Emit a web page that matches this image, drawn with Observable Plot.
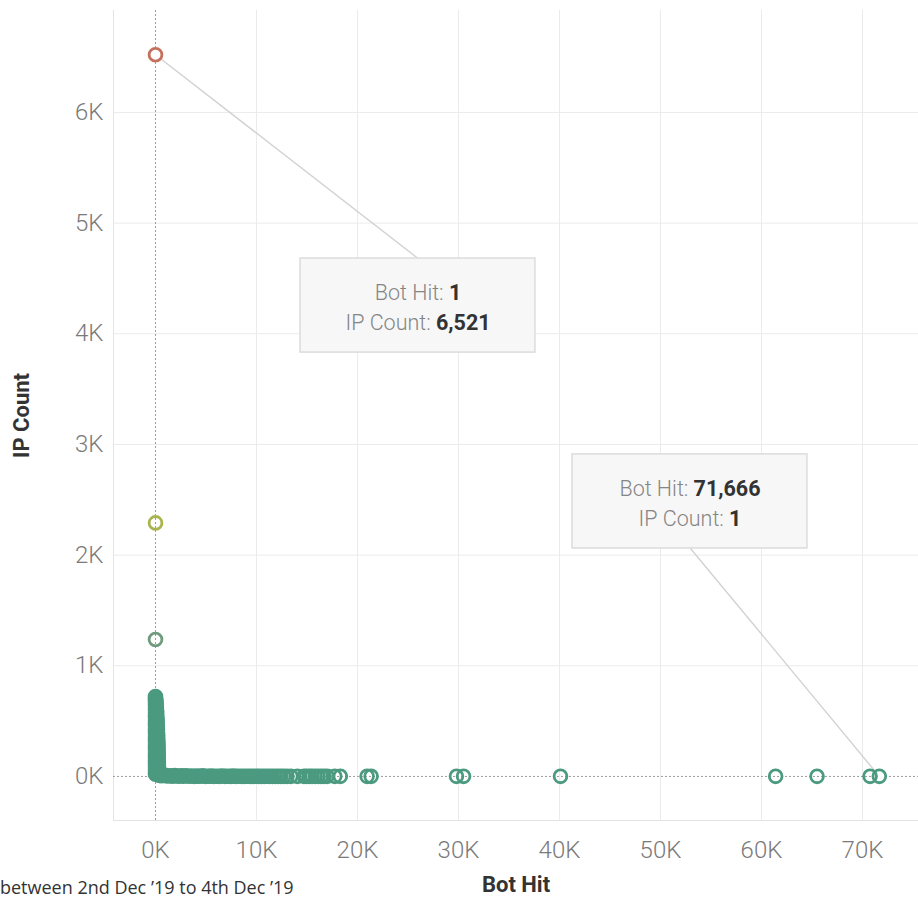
<!DOCTYPE html>
<html>
<head>
<meta charset="utf-8">
<script src="https://cdn.jsdelivr.net/npm/d3@7"></script>
<script src="https://cdn.jsdelivr.net/npm/@observablehq/plot@0.6"></script>
<style>
  body { margin: 0; background: #fff; }
  #wrap { position: relative; width: 918px; height: 898px; overflow: hidden; }
  #caption { position: absolute; left: 0px; top: 875px; font-family: "Open Sans", sans-serif; font-size: 18px; color: #333; white-space: nowrap; }
</style>
</head>
<body>
<div id="wrap"><div id="chart"></div><div id="caption">between 2nd Dec ’19 to 4th Dec ’19</div></div>
<script>
// --- Data ---
const botHit = [
  // outliers on the y axis
  1, 2, 1,
  // vertical cluster near Bot Hit = 0
  1, 3, 1, 40, 2, 60, 1, 80, 3, 95, 1, 110, 2, 120, 1, 135, 3, 150, 1, 160, 2, 170, 1, 180, 2, 190,
  1, 200, 3, 210, 1, 220, 2, 230, 1, 240, 2, 250, 1, 255, 3, 260, 1, 265, 2, 270, 1, 275, 2, 280,
  1, 285, 2, 290, 1, 300, 2, 320, 1, 350, 3, 380,
  // horizontal band near IP Count = 0
  420, 610, 880, 1130, 1390, 1660, 1920, 2200, 2470, 2750, 3020, 3300, 3560, 3840, 4110, 4400, 4660,
  4950, 5220, 5500, 5770, 6050, 6330, 6600, 6880, 7150, 7430, 7700, 7990, 8260, 8540, 8810, 9090,
  9370, 9640, 9920, 10200, 10470, 10750, 11030, 11300, 11580, 11860, 12130, 12410, 12690, 13020,
  13400, 14050, 14700, 14950, 15250, 15500, 15800, 16100, 16400, 16700, 17000, 17750, 18300,
  20950, 21350, 29800, 30500, 40100, 61400, 65500, 70750, 71666
];
const ipCount = [
  6521, 2291, 1238,
  722, 708, 695, 688, 676, 664, 650, 640, 628, 616, 603, 592, 580, 568, 556, 544, 532, 520, 508, 496, 484, 472, 460, 448, 436, 424,
  412, 400, 388, 376, 364, 352, 340, 328, 316, 304, 292, 280, 268, 256, 244, 232, 220, 208, 196, 184, 172, 160, 148, 136,
  124, 112, 100, 88, 76, 64, 52, 42, 32, 28, 20, 18,
  9, 6, 12, 4, 7, 3, 8, 2, 5, 3, 6, 2, 4, 1, 3, 2, 5,
  1, 2, 3, 1, 2, 1, 4, 1, 2, 1, 3, 1, 2, 1, 1, 2,
  1, 1, 2, 1, 1, 1, 2, 1, 1, 1, 1, 1, 1,
  1, 1, 1, 1, 1, 1, 1, 1, 1, 1, 1, 1, 1, 1,
  1, 1, 1, 1, 1, 1, 1, 1, 1
];
const xTicks = [0, 10000, 20000, 30000, 40000, 50000, 60000, 70000];
const yTicks = [0, 1000, 2000, 3000, 4000, 5000, 6000];
const colorStops = [0, 800, 1238, 2291, 6521];
const colorRange = ["#4b9a80", "#4b9a80", "#6f9b7d", "#a9b44e", "#c4705b"];

// Annotations (tooltips) in data space
const notePointX = [1, 71666];
const notePointY = [6521, 1];
const noteAnchorX = [26000, 52970];
const noteAnchorY = [4680, 2060];
const noteBoxX1 = [14360, 41290];
const noteBoxX2 = [37620, 64550];
const noteBoxY1 = [3830, 2060];
const noteBoxY2 = [4680, 2910];

const data = botHit.map((b, i) => ({botHit: b, ipCount: ipCount[i]}));
const notes = notePointX.map((px, i) => ({
  px, py: notePointY[i], ax: noteAnchorX[i], ay: noteAnchorY[i],
  x1: noteBoxX1[i], x2: noteBoxX2[i], y1: noteBoxY1[i], y2: noteBoxY2[i],
  text: `Bot Hit: ${d3.format(",")(px)}\nIP Count: ${d3.format(",")(notePointY[i])}`
}));

const kfmt = d => `${d / 1000}K`;

const chart = Plot.plot({
  width: 918,
  height: 898,
  marginLeft: 113,
  marginRight: 0,
  marginTop: 10,
  marginBottom: 78,
  style: {fontFamily: "Roboto, sans-serif", background: "#fff"},
  x: {domain: [-4158, 75545]},
  y: {domain: [-398, 6921]},
  color: {type: "linear", domain: colorStops, range: colorRange},
  marks: [
    Plot.gridX(xTicks.filter(d => d !== 0), {stroke: "#ebebeb", strokeOpacity: 1}),
    Plot.gridY(yTicks.filter(d => d !== 0), {stroke: "#ebebeb", strokeOpacity: 1}),
    Plot.frame({anchor: "left", stroke: "#e4e4e4"}),
    Plot.frame({anchor: "bottom", stroke: "#e4e4e4"}),
    Plot.ruleX([0], {stroke: "#9b9b9b", strokeDasharray: "2,2"}),
    Plot.ruleY([0], {stroke: "#9b9b9b", strokeDasharray: "2,2"}),
    Plot.link(notes, {x1: "px", y1: "py", x2: "ax", y2: "ay", stroke: "#d2d2d2", strokeWidth: 1.4}),
    Plot.dot(notes, {x: "px", y: "py", r: 7.5, fill: "white", stroke: "none"}),
    Plot.dot(data, {x: "botHit", y: "ipCount", r: 6.4, stroke: "ipCount", strokeWidth: 2.8, fill: "none"}),
    Plot.rect(notes, {x1: "x1", x2: "x2", y1: "y1", y2: "y2", fill: "#f7f7f7", stroke: "#dcdcdc", strokeWidth: 1.5}),
    Plot.text(notes, {x: d => (d.x1 + d.x2) / 2, y: d => (d.y1 + d.y2) / 2, text: "text", fontSize: 21.5, lineHeight: 1.4, fill: "#858585", className: "tip"}),
    Plot.axisX(xTicks, {tickSize: 0, tickPadding: 20, tickFormat: kfmt, fontSize: 24, fill: "#7a7a7a", label: "Bot Hit", labelAnchor: "center", labelArrow: "none", labelOffset: 71}),
    Plot.axisY(yTicks, {tickSize: 0, tickPadding: 10, tickFormat: kfmt, fontSize: 24, fill: "#7a7a7a", label: "IP Count", labelAnchor: "center", labelArrow: "none", labelOffset: 100})
  ]
});

const svg = d3.select(chart);
svg.selectAll('g[aria-label="tick label"] text, g[aria-label="x-axis tick label"] text, g[aria-label="y-axis tick label"] text').style("font-weight", "300");
svg.selectAll('g[aria-label="x-axis label"] text, g[aria-label="y-axis label"] text')
  .attr("fill", "#333").style("font-weight", "bold").style("font-size", "22px");
// Bold values in the tooltips
svg.selectAll(".tip tspan").each(function() {
  const t = d3.select(this);
  const s = t.text();
  const k = s.indexOf(": ");
  t.text(null);
  t.append("tspan").style("font-weight", "300").text(s.slice(0, k + 2));
  t.append("tspan").attr("fill", "#333").style("font-weight", "bold").text(s.slice(k + 2));
});
document.getElementById("chart").appendChild(chart);
</script>
</body>
</html>
